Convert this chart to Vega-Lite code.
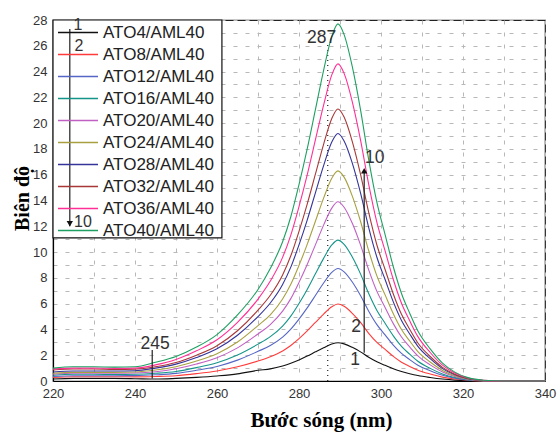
{
  "$schema": "https://vega.github.io/schema/vega-lite/v6.json",
  "width": 492,
  "height": 361,
  "autosize": {"type": "none"},
  "padding": {"left": 53, "top": 20, "right": 15, "bottom": 51},
  "background": "white",
  "config": {"view": {"stroke": "#222", "strokeWidth": 1.2}, "font": "Liberation Sans"},
  "datasets": {
    "spectra": [
      {"x": 220, "4": 0.15, "8": 0.28, "12": 0.36, "16": 0.45, "20": 0.52, "24": 0.6, "28": 0.7, "32": 0.85, "36": 0.92, "40": 1.0},
      {"x": 225, "4": 0.2, "8": 0.33, "12": 0.41, "16": 0.52, "20": 0.6, "24": 0.67, "28": 0.78, "32": 0.93, "36": 1.0, "40": 1.1},
      {"x": 230, "4": 0.2, "8": 0.33, "12": 0.41, "16": 0.52, "20": 0.6, "24": 0.67, "28": 0.78, "32": 0.93, "36": 1.0, "40": 1.1},
      {"x": 235, "4": 0.2, "8": 0.33, "12": 0.41, "16": 0.5, "20": 0.6, "24": 0.67, "28": 0.78, "32": 0.9, "36": 0.98, "40": 1.08},
      {"x": 240, "4": 0.18, "8": 0.32, "12": 0.42, "16": 0.52, "20": 0.62, "24": 0.7, "28": 0.8, "32": 0.92, "36": 1.0, "40": 1.1},
      {"x": 245, "4": 0.15, "8": 0.35, "12": 0.48, "16": 0.6, "20": 0.72, "24": 0.85, "28": 1.0, "32": 1.1, "36": 1.25, "40": 1.45},
      {"x": 250, "4": 0.2, "8": 0.41, "12": 0.59, "16": 0.74, "20": 0.95, "24": 1.11, "28": 1.31, "32": 1.43, "36": 1.67, "40": 1.9},
      {"x": 255, "4": 0.28, "8": 0.57, "12": 0.83, "16": 1.04, "20": 1.32, "24": 1.55, "28": 1.82, "32": 2.0, "36": 2.34, "40": 2.63},
      {"x": 260, "4": 0.39, "8": 0.78, "12": 1.13, "16": 1.42, "20": 1.81, "24": 2.12, "28": 2.5, "32": 2.74, "36": 3.2, "40": 3.6},
      {"x": 265, "4": 0.55, "8": 1.1, "12": 1.62, "16": 2.02, "20": 2.57, "24": 3.02, "28": 3.55, "32": 3.9, "36": 4.55, "40": 5.12},
      {"x": 270, "4": 0.83, "8": 1.55, "12": 2.3, "16": 2.86, "20": 3.65, "24": 4.3, "28": 5.0, "32": 5.5, "36": 6.35, "40": 7.1},
      {"x": 273, "4": 0.94, "8": 1.88, "12": 2.75, "16": 3.44, "20": 4.38, "24": 5.13, "28": 6.05, "32": 6.65, "36": 7.75, "40": 8.73},
      {"x": 276, "4": 1.16, "8": 2.33, "12": 3.4, "16": 4.26, "20": 5.42, "24": 6.36, "28": 7.49, "32": 8.23, "36": 9.59, "40": 10.8},
      {"x": 278, "4": 1.37, "8": 2.75, "12": 4.02, "16": 5.03, "20": 6.39, "24": 7.5, "28": 8.83, "32": 9.71, "36": 11.32, "40": 12.74},
      {"x": 280, "4": 1.63, "8": 3.28, "12": 4.8, "16": 6.01, "20": 7.65, "24": 8.97, "28": 10.56, "32": 11.61, "36": 13.53, "40": 15.24},
      {"x": 282, "4": 1.93, "8": 3.88, "12": 5.67, "16": 7.1, "20": 9.04, "24": 10.6, "28": 12.48, "32": 13.72, "36": 15.99, "40": 18.0},
      {"x": 284, "4": 2.26, "8": 4.54, "12": 6.63, "16": 8.31, "20": 10.56, "24": 12.39, "28": 14.59, "32": 16.04, "36": 18.7, "40": 21.05},
      {"x": 286, "4": 2.58, "8": 5.19, "12": 7.6, "16": 9.51, "20": 12.09, "24": 14.18, "28": 16.7, "32": 18.36, "36": 21.4, "40": 24.1},
      {"x": 288, "4": 2.87, "8": 5.76, "12": 8.42, "16": 10.55, "20": 13.41, "24": 15.73, "28": 18.53, "32": 20.36, "36": 23.74, "40": 26.73},
      {"x": 289.5, "4": 2.97, "8": 5.97, "12": 8.73, "16": 10.93, "20": 13.9, "24": 16.3, "28": 19.2, "32": 21.1, "36": 24.6, "40": 27.7},
      {"x": 291, "4": 2.88, "8": 5.79, "12": 8.47, "16": 10.6, "20": 13.48, "24": 15.81, "28": 18.62, "32": 20.47, "36": 23.86, "40": 26.87},
      {"x": 293, "4": 2.61, "8": 5.25, "12": 7.68, "16": 9.62, "20": 12.23, "24": 14.34, "28": 16.9, "32": 18.57, "36": 21.65, "40": 24.38},
      {"x": 295, "4": 2.26, "8": 4.54, "12": 6.63, "16": 8.31, "20": 10.56, "24": 12.39, "28": 14.59, "32": 16.04, "36": 18.7, "40": 21.05},
      {"x": 297, "4": 1.84, "8": 3.7, "12": 5.41, "16": 6.78, "20": 8.62, "24": 10.11, "28": 11.9, "32": 13.08, "36": 15.25, "40": 17.17},
      {"x": 299, "4": 1.49, "8": 2.99, "12": 4.37, "16": 5.47, "20": 6.95, "24": 8.15, "28": 9.6, "32": 10.55, "36": 12.3, "40": 13.85},
      {"x": 301, "4": 1.22, "8": 2.45, "12": 3.58, "16": 4.48, "20": 5.7, "24": 6.68, "28": 7.87, "32": 8.65, "36": 10.09, "40": 11.36},
      {"x": 303, "4": 0.95, "8": 1.91, "12": 2.79, "16": 3.5, "20": 4.45, "24": 5.22, "28": 6.14, "32": 6.75, "36": 7.87, "40": 8.86},
      {"x": 305, "4": 0.73, "8": 1.46, "12": 2.14, "16": 2.68, "20": 3.41, "24": 3.99, "28": 4.7, "32": 5.17, "36": 6.03, "40": 6.79},
      {"x": 307, "4": 0.56, "8": 1.13, "12": 1.66, "16": 2.08, "20": 2.64, "24": 3.1, "28": 3.65, "32": 4.01, "36": 4.67, "40": 5.26},
      {"x": 309, "4": 0.42, "8": 0.84, "12": 1.22, "16": 1.53, "20": 1.95, "24": 2.28, "28": 2.69, "32": 2.95, "36": 3.44, "40": 3.88},
      {"x": 312, "4": 0.27, "8": 0.54, "12": 0.79, "16": 0.98, "20": 1.25, "24": 1.47, "28": 1.73, "32": 1.9, "36": 2.21, "40": 2.49},
      {"x": 315, "4": 0.15, "8": 0.3, "12": 0.44, "16": 0.55, "20": 0.7, "24": 0.82, "28": 0.96, "32": 1.06, "36": 1.23, "40": 1.39},
      {"x": 318, "4": 0.07, "8": 0.15, "12": 0.22, "16": 0.27, "20": 0.35, "24": 0.41, "28": 0.48, "32": 0.53, "36": 0.62, "40": 0.69},
      {"x": 321, "4": 0.03, "8": 0.06, "12": 0.09, "16": 0.11, "20": 0.14, "24": 0.16, "28": 0.19, "32": 0.21, "36": 0.25, "40": 0.28},
      {"x": 325, "4": 0.01, "8": 0.01, "12": 0.02, "16": 0.02, "20": 0.03, "24": 0.03, "28": 0.04, "32": 0.04, "36": 0.05, "40": 0.06},
      {"x": 330, "4": 0, "8": 0, "12": 0, "16": 0, "20": 0, "24": 0, "28": 0, "32": 0, "36": 0, "40": 0},
      {"x": 340, "4": 0, "8": 0, "12": 0, "16": 0, "20": 0, "24": 0, "28": 0, "32": 0, "36": 0, "40": 0}
    ],
    "legendbox": [{"x": 220, "x2": 261.2, "y": 11.1, "y2": 28}],
    "marker287": [{"x": 287, "y": 0, "y2": 26.2}],
    "arrows": [
      {"x": 224.1, "y": 12.0, "y2": 27.3},
      {"x": 295.9, "y": 2.2, "y2": 16.2},
      {"x": 244.2, "y": 0.2, "y2": 2.4}
    ],
    "heads": [
      {"x": 224.1, "y": 12.2, "dir": "down"},
      {"x": 295.9, "y": 16.3, "dir": "up"}
    ],
    "legendnums": [
      {"x": 226.1, "y": 27.6, "t": "1"},
      {"x": 226.3, "y": 26.0, "t": "2"},
      {"x": 227.3, "y": 12.3, "t": "10"}
    ],
    "notes": [
      {"x": 285.5, "y": 26.6, "t": "287"},
      {"x": 244.9, "y": 2.87, "t": "245"},
      {"x": 298.5, "y": 17.3, "t": "10"},
      {"x": 293.9, "y": 4.2, "t": "2"},
      {"x": 293.7, "y": 1.6, "t": "1"}
    ]
  },
  "encoding": {
    "x": {
      "field": "x", "type": "quantitative",
      "scale": {"domain": [220, 340], "nice": false, "zero": false},
      "axis": {
        "values": [220, 230, 240, 250, 260, 270, 280, 290, 300, 310, 320, 330, 340],
        "labelExpr": "datum.value % 20 == 0 ? datum.label : ''",
        "grid": true, "gridColor": "#b8b8b8", "gridDash": [4, 8], "gridWidth": 1,
        "ticks": false, "domainColor": "#000", "domainWidth": 1.2,
        "labelFont": "Liberation Sans", "labelFontSize": 13, "labelColor": "#333", "labelPadding": 6,
        "labelFlush": false,
        "title": "Bước sóng (nm)", "titleFont": "Liberation Serif", "titleFontSize": 21, "titleFontWeight": "bold",
        "titleColor": "#000", "titleX": 268, "titleY": 45, "titleBaseline": "alphabetic", "titleAlign": "center"
      }
    },
    "y": {
      "field": "y", "type": "quantitative",
      "scale": {"domain": [0, 28], "nice": false},
      "axis": {
        "values": [0, 1, 2, 3, 4, 5, 6, 7, 8, 9, 10, 11, 12, 13, 14, 15, 16, 17, 18, 19, 20, 21, 22, 23, 24, 25, 26, 27, 28],
        "labelExpr": "datum.value % 2 == 0 ? datum.label : ''",
        "grid": true, "gridColor": "#b8b8b8", "gridDash": [4, 8], "gridWidth": 1,
        "ticks": false, "domainColor": "#000", "domainWidth": 1.2,
        "labelFont": "Liberation Sans", "labelFontSize": 13, "labelColor": "#333", "labelPadding": 6,
        "labelFlush": false,
        "title": "Biên độ", "titleFont": "Liberation Serif", "titleFontSize": 20, "titleFontWeight": "bold",
        "titleColor": "#000", "titleX": -25, "titleY": 178, "titleAngle": -90, "titleBaseline": "alphabetic", "titleAlign": "center"
      }
    }
  },
  "layer": [
    {
      "data": {"name": "legendbox"},
      "mark": {"type": "rect", "fill": "white", "stroke": "#111", "strokeWidth": 1.2},
      "encoding": {"x2": {"field": "x2"}, "y2": {"field": "y2"}}
    },
    {
      "data": {"name": "marker287"},
      "mark": {"type": "rule", "color": "#333", "strokeDash": [1, 4], "strokeWidth": 1.3},
      "encoding": {"y2": {"field": "y2"}}
    },
    {
      "data": {"name": "spectra"},
      "transform": [{"fold": ["4", "8", "12", "16", "20", "24", "28", "32", "36", "40"], "as": ["series", "y"]}],
      "mark": {"type": "line", "interpolate": "monotone", "strokeWidth": 1.1},
      "encoding": {
        "color": {
          "field": "series", "type": "nominal",
          "scale": {
            "domain": ["4", "8", "12", "16", "20", "24", "28", "32", "36", "40"],
            "range": ["#111111", "#ff3b3b", "#5566c4", "#15958a", "#c060c4", "#a8a040", "#34349a", "#a83838", "#ff2f95", "#1ea062"]
          },
          "legend": {
            "orient": "none", "legendX": 14, "legendY": 1.5, "title": null,
            "symbolType": "M-2,0H2", "symbolSize": 400, "symbolStrokeWidth": 1.3,
            "labelFont": "Liberation Sans", "labelFontSize": 17, "labelColor": "#222",
            "labelExpr": "'ATO' + datum.label + '/AML40'", "rowPadding": 3, "labelOffset": 14
          }
        }
      }
    },
    {
      "data": {"name": "arrows"},
      "mark": {"type": "rule", "color": "#222", "strokeWidth": 1.2},
      "encoding": {"y2": {"field": "y2"}}
    },
    {
      "data": {"name": "heads"},
      "mark": {"type": "point", "filled": true, "color": "#111", "size": 40, "opacity": 1},
      "encoding": {
        "shape": {"field": "dir", "type": "nominal", "scale": {"domain": ["down", "up"], "range": ["triangle-down", "triangle-up"]}, "legend": null}
      }
    },
    {
      "data": {"name": "legendnums"},
      "mark": {"type": "text", "font": "Liberation Sans", "fontSize": 16, "color": "#333", "align": "center", "baseline": "middle"},
      "encoding": {"text": {"field": "t"}}
    },
    {
      "data": {"name": "notes"},
      "mark": {"type": "text", "font": "Liberation Sans", "fontSize": 17.5, "color": "#333", "align": "center", "baseline": "middle"},
      "encoding": {"text": {"field": "t"}}
    }
  ]
}
